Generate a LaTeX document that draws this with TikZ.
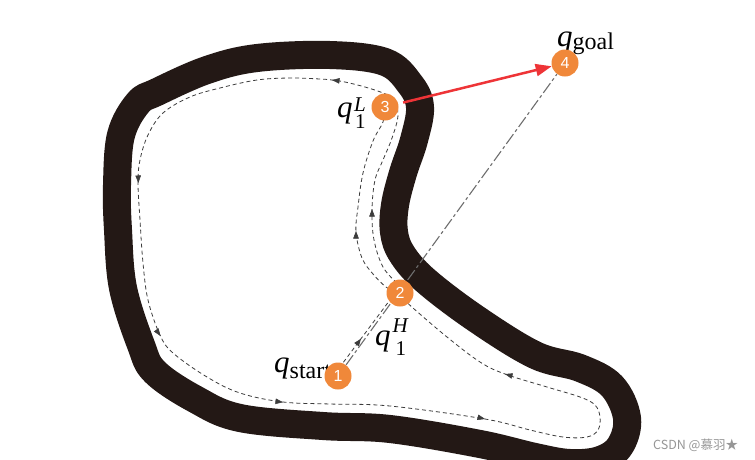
\documentclass[tikz,border=0pt]{standalone}
\usepackage{fontspec}
\setmainfont{Liberation Serif}
\newfontfamily\numfont{Liberation Sans}
\newfontfamily\cjkfont{Noto Sans CJK SC}
\usetikzlibrary{arrows.meta,decorations.markings}
\pgfdeclarelayer{back}
\pgfdeclarelayer{mid}
\pgfsetlayers{back,mid,main}
\definecolor{bandc}{RGB}{35,24,21}
\definecolor{dashc}{RGB}{60,60,60}
\definecolor{orangec}{RGB}{240,136,58}
\definecolor{redc}{RGB}{238,52,55}
\definecolor{grayc}{RGB}{110,110,110}
\definecolor{wmc}{RGB}{150,150,150}
\tikzset{
  band/.style={line width=28pt, draw=bandc, line join=round},
  pathd/.style={draw=dashc, line width=0.8pt, dash pattern=on 4pt off 3pt},
  tipst/.style={draw=dashc, fill=dashc, line width=0.5pt, -{Triangle[length=7.5pt,width=5.5pt]}},
  goalline/.style={draw=grayc, line width=1.1pt, dash pattern=on 12pt off 3pt on 3pt off 3pt},
  redarrow/.style={draw=redc, line width=2.5pt, -{Triangle[length=16pt,width=12pt]}, shorten <=5pt},
  bugdot/.style={circle, fill=orangec, minimum size=27pt, inner sep=0pt, text=white,
    font=\numfont\fontsize{16}{16}\selectfont},
  lab/.style={anchor=base west, inner sep=0pt, font=\fontsize{31}{31}\selectfont},
}
\newcommand\subsz{\fontsize{24}{24}\selectfont}
\newcommand\supsz{\fontsize{21}{21}\selectfont}
\begin{document}
\begin{tikzpicture}[x=1pt,y=-1pt]
\useasboundingbox (0,0) rectangle (755,459);
\clip (0,0) rectangle (755,459);

\begin{pgfonlayer}{back}
\fill[white] (0,0) rectangle (755,459);
% obstacle
\draw[band] plot[smooth cycle, tension=0.6] coordinates {
(257,58) (330,55) (385,62) (410,84) (420,107) (414,140) (403,173) (395,205)
(394,232) (402,254) (425,280) (475,318) (535,355) (580,368) (612,386) (627,418)
(620,446) (600,460) (570,463) (535,457) (480,444) (390,429) (323,426) (240,418)
(195,399) (155,372) (141,345) (123,288) (118,230) (117,185) (121,135) (138,103)
(157,92) (207,70)};

% circumnavigation path
\draw[pathd] plot[smooth, tension=0.6] coordinates {
(397,283) (383,267) (374,240) (372,210) (375,180) (383,160) (392,138) (398,115)
(393,99) (383,93) (365,87) (345,82) (332,80) (320,79) (290,78) (257,80) (220,88)
(190,97) (163,113) (148,135) (140,160) (138,183) (140,220) (143,263) (148,300)
(160,335) (173,353) (207,377) (240,393) (283,402) (330,404) (390,406) (485,419)
(530,430) (563,437) (587,437) (598,430) (600,417) (595,405) (580,397) (547,387)
(505,374) (480,362) (447,337) (413,308) (398,294) (386,287) (373,274) (362,258)
(356,232) (358,207) (363,173) (373,141) (383,122) (385,108)};

% arrowheads on the path
\draw[tipst] (372,214) -- (372,209);
\draw[tipst] (356,236) -- (356,231);
\draw[tipst] (337,80.6) -- (332,80);
\draw[tipst] (138.2,177) -- (138.4,183);
\draw[tipst] (157,331) -- (160.5,336);
\draw[tipst] (278,401.6) -- (283,402.2);
\draw[tipst] (480,417.8) -- (485,419);
\draw[tipst] (510,375.4) -- (505,374);
\end{pgfonlayer}

% labels
\node[lab] (lstart) at (274,372) {\itshape q\upshape\raisebox{-6pt}{\subsz start}};
\node[lab] (lgoal) at (557,46) {\itshape q\upshape\raisebox{-3pt}{\subsz goal}};
\node[lab] (lL) at (337,117) {\itshape q\kern1.5pt\rlap{\raisebox{6pt}{\supsz L}}\upshape\kern1pt\raisebox{-11pt}{\supsz 1}};
\node[lab] (lH) at (375,345) {\itshape q\kern2pt\rlap{\raisebox{12.5pt}{\supsz H}}\upshape\kern3pt\raisebox{-10pt}{\supsz 1}};

% way points
\node[bugdot] (n1) at (338,376) {1};
\node[bugdot] (n2) at (400,293) {2};
\node[bugdot] (n3) at (385,107) {3};
\node[bugdot] (n4) at (565,63) {4};

\begin{pgfonlayer}{mid}
\draw[pathd, postaction={decorate}, decoration={markings,
  mark=at position 0.42 with {\arrow[dashc]{Triangle[length=7.5pt,width=5.5pt]}}}]
  ([xshift=-3pt,yshift=2.5pt]n1.center) -- ([xshift=-3pt,yshift=2.5pt]n2.center);
\draw[goalline] (n1) -- (n4);
\draw[redarrow] (n3) -- (n4);
\end{pgfonlayer}

\node[anchor=base west, inner sep=0pt, text=wmc, font=\cjkfont\fontsize{12.5}{12.5}\selectfont] (wm) at (653,449) {CSDN @慕羽★};
\end{tikzpicture}
\end{document}
